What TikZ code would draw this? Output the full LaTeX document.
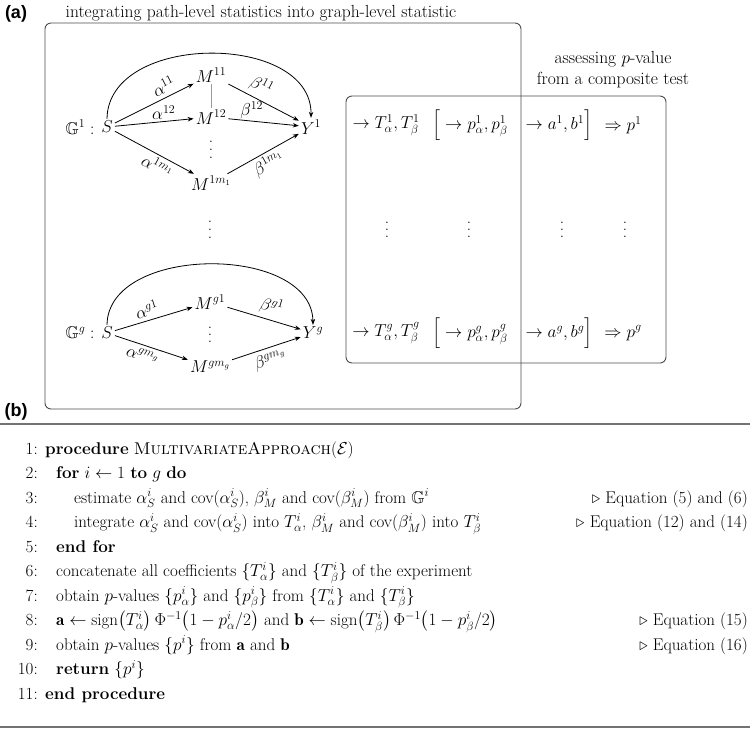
\documentclass[tikz,border=0pt]{standalone}
\usepackage{amsmath,amssymb}
\usepackage{fontspec}
\newfontfamily\lblfont{Liberation Sans}
\usetikzlibrary{arrows.meta,calc}
\newcommand{\vdt}[1]{\vbox{\baselineskip=#1\lineskiplimit=0pt\hbox{.}\hbox{.}\hbox{.}}}
\begin{document}
\begin{tikzpicture}[x=1pt,y=-1pt,
  gm/.style={inner sep=2pt, font=\fontsize{17}{20}\selectfont},
  dts/.style={inner sep=0pt, font=\fontsize{17}{20}\selectfont},
  lab/.style={inner sep=1.5pt, font=\fontsize{17}{20}\selectfont},
  edge/.style={-{Stealth[length=6pt,width=4.5pt]}, line width=0.8pt},
  box/.style={draw=black!70, line width=0.9pt, rounded corners=6pt},
  ttl/.style={font=\fontsize{17.5}{21}\selectfont, inner sep=0pt},
  panel/.style={font=\lblfont\bfseries\fontsize{18}{20}\selectfont, inner sep=0pt},
  alg/.style={anchor=base west, inner sep=0pt, font=\fontsize{17}{20}\selectfont},
  num/.style={anchor=base east, inner sep=0pt, font=\fontsize{17}{20}\selectfont},
  cmt/.style={anchor=base east, inner sep=0pt, font=\fontsize{17}{20}\selectfont},
  rule/.style={draw=black!55, line width=1.2pt}]
\useasboundingbox (0,0) rectangle (750,740);

% panel labels and titles
\node[panel] (pa) at (16,14) {(a)};
\node[panel] (pb) at (16,412) {(b)};
\node[ttl] (t1) at (261,13) {integrating path-level statistics into graph-level statistic};
\node[ttl, align=center] (t2) at (613,70) {assessing $p$-value\\from a composite test};

% boxes
\draw[box] (45,23) rectangle (521,409);
\draw[box] (346,96) rectangle (666,363);

% graph 1
\node[gm] (G1) at (80,127) {$\mathbb{G}^1:$};
\node[gm] (S1) at (107,127) {$S$};
\node[gm] (M11) at (211,75) {$M^{11}$};
\node[gm] (M12) at (211,117) {$M^{12}$};
\node[dts] (Md1) at (211,150) {\vdt{8pt}};
\node[gm] (M1m) at (211,183) {$M^{1m_1}$};
\node[gm] (Y1) at (311,127) {$Y^1$};
\draw[black!40, line width=0.8pt] (M11) -- (M12);
\draw[edge] (S1) -- node[lab, sloped, above=2pt, pos=0.68] {$\alpha^{11}$} (M11);
\draw[edge] (S1) -- node[lab, above, pos=0.62] {$\alpha^{12}$} (M12);
\draw[edge] (S1) -- node[lab, sloped, below=1pt, pos=0.6] {$\alpha^{1m_1}$} (M1m);
\draw[edge] (M11) -- node[lab, sloped, above=3pt, pos=0.38] {$\beta^{11}$} (Y1);
\draw[edge] (M12) -- node[lab, above, pos=0.33] {$\beta^{12}$} (Y1);
\draw[edge] (M1m) -- node[lab, sloped, below=1pt, pos=0.5] {$\beta^{1m_1}$} (Y1);
\draw[edge] (S1.north) .. controls (108,32) and (312,32) .. (Y1.north);

\node[dts] (Dv) at (210,230) {\vdt{8pt}};

% graph g
\node[gm] (Gg) at (80,333) {$\mathbb{G}^g:$};
\node[gm] (Sg) at (107,333) {$S$};
\node[gm] (Mg1) at (210,302) {$M^{g1}$};
\node[dts] (Mgd) at (210,335) {\vdt{7pt}};
\node[gm] (Mgm) at (210,367) {$M^{gm_g}$};
\node[gm] (Yg) at (313,333) {$Y^g$};
\draw[edge] (Sg) -- node[lab, sloped, above=2pt, pos=0.45] {$\alpha^{g1}$} (Mg1);
\draw[edge] (Sg) -- node[lab, sloped, below=2pt, pos=0.42] {$\alpha^{gm_g}$} (Mgm);
\draw[edge] (Mg1) -- node[lab, sloped, above=3pt, pos=0.55] {$\beta^{g1}$} (Yg);
\draw[edge] (Mgm) -- node[lab, sloped, below=3pt, pos=0.5] {$\beta^{gm_g}$} (Yg);
\draw[edge] (Sg.north) .. controls (108,244) and (312,244) .. (Yg.north);

% right-hand rows
\node[gm] (T1) at (386,125) {$\to T^1_\alpha, T^1_\beta$};
\node[gm] (P1) at (470,125) {$\Big[\to p^1_\alpha, p^1_\beta$};
\node[gm] (A1) at (559,125) {$\to a^1, b^1\Big]$};
\node[gm] (R1) at (623,125) {$\Rightarrow p^1$};
\node[dts] (d1) at (387,230) {\vdt{7pt}};
\node[dts] (d2) at (469,230) {\vdt{7pt}};
\node[dts] (d3) at (562,230) {\vdt{7pt}};
\node[dts] (d4) at (625,230) {\vdt{7pt}};
\node[gm] (Tg) at (386,333) {$\to T^g_\alpha, T^g_\beta$};
\node[gm] (Pg) at (470,333) {$\Big[\to p^g_\alpha, p^g_\beta$};
\node[gm] (Ag) at (559,333) {$\to a^g, b^g\Big]$};
\node[gm] (Rg) at (623,333) {$\Rightarrow p^g$};

% algorithm
\draw[rule] (0,424) -- (750,424);
\draw[rule, line width=1.6pt] (0,727) -- (750,727);

\node[num] (n1) at (38,454) {1:};
\node[alg] (l1) at (45,454) {\textbf{procedure} \textsc{MultivariateApproach}($\mathcal{E}$)};
\node[num] (n2) at (38,478.5) {2:};
\node[alg] (l2) at (56,478.5) {\textbf{for} $i \leftarrow 1$ \textbf{to} $g$ \textbf{do}};
\node[num] (n3) at (38,503) {3:};
\node[alg] (l3) at (74,503) {estimate $\alpha^i_S$ and cov($\alpha^i_S$), $\beta^i_M$ and cov($\beta^i_M$) from $\mathbb{G}^i$};
\node[cmt] (c3) at (748,503) {$\triangleright$ Equation (5) and (6)};
\node[num] (n4) at (38,527.5) {4:};
\node[alg] (l4) at (74,527.5) {integrate $\alpha^i_S$ and cov($\alpha^i_S$) into $T^i_\alpha$, $\beta^i_M$ and cov($\beta^i_M$) into $T^i_\beta$};
\node[cmt] (c4) at (748,527.5) {$\triangleright$ Equation (12) and (14)};
\node[num] (n5) at (38,552) {5:};
\node[alg] (l5) at (56,552) {\textbf{end for}};
\node[num] (n6) at (38,576.5) {6:};
\node[alg] (l6) at (56,576.5) {concatenate all coefficients $\{T^i_\alpha\}$ and $\{T^i_\beta\}$ of the experiment};
\node[num] (n7) at (38,601) {7:};
\node[alg] (l7) at (56,601) {obtain $p$-values $\{p^i_\alpha\}$ and $\{p^i_\beta\}$ from $\{T^i_\alpha\}$ and $\{T^i_\beta\}$};
\node[num] (n8) at (38,625.5) {8:};
\node[alg] (l8) at (56,625.5) {$\mathbf{a} \leftarrow \mathrm{sign}\bigl(T^i_\alpha\bigr)\,\Phi^{-1}\bigl(1-p^i_\alpha/2\bigr)$ and $\mathbf{b} \leftarrow \mathrm{sign}\bigl(T^i_\beta\bigr)\,\Phi^{-1}\bigl(1-p^i_\beta/2\bigr)$};
\node[cmt] (c8) at (748,625.5) {$\triangleright$ Equation (15)};
\node[num] (n9) at (38,650) {9:};
\node[alg] (l9) at (56,650) {obtain $p$-values $\{p^i\}$ from $\mathbf{a}$ and $\mathbf{b}$};
\node[cmt] (c9) at (748,650) {$\triangleright$ Equation (16)};
\node[num] (n10) at (38,674.5) {10:};
\node[alg] (l10) at (56,674.5) {\textbf{return} $\{p^i\}$};
\node[num] (n11) at (38,699) {11:};
\node[alg] (l11) at (45,699) {\textbf{end procedure}};
\end{tikzpicture}
\end{document}
